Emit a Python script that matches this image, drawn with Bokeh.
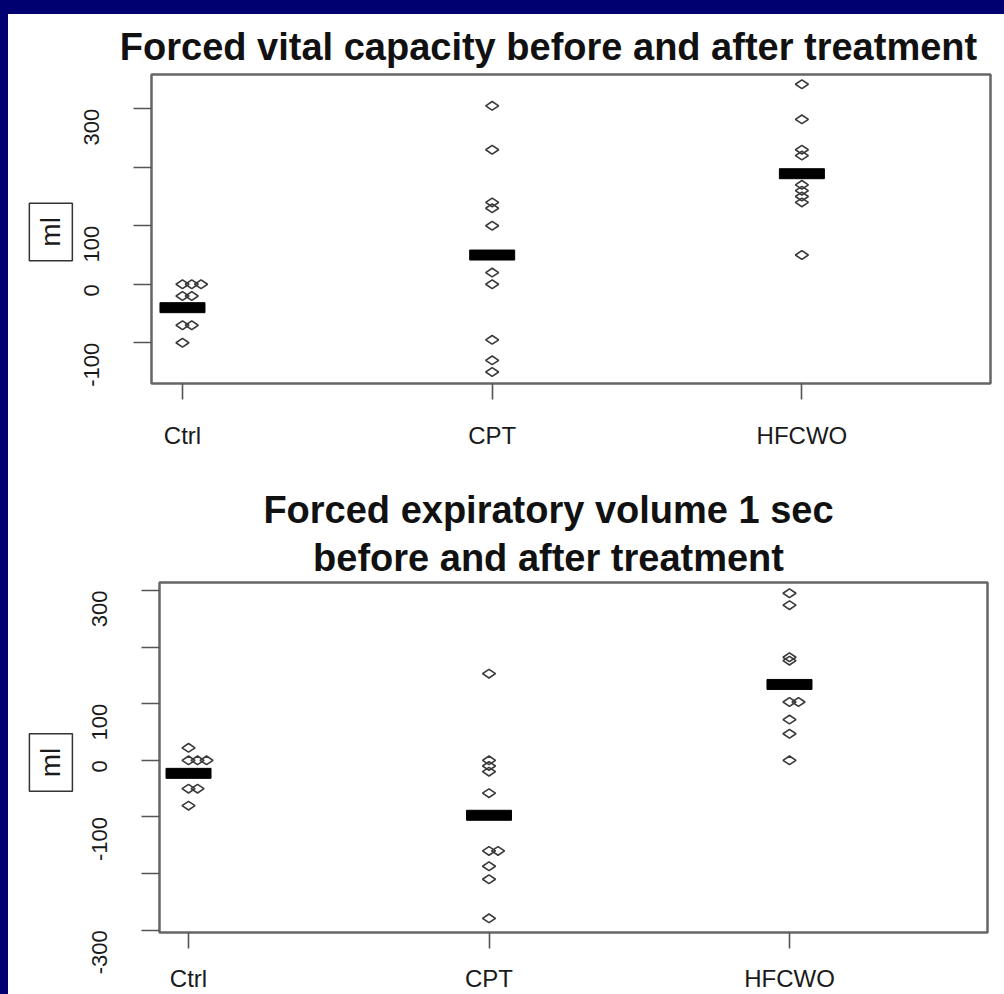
import math
from bokeh.plotting import figure
from bokeh.models import FixedTicker, Range1d, Title, Label, GlobalInlineStyleSheet
from bokeh.layouts import column
from bokeh.embed import file_html
from bokeh.resources import INLINE

# ---------------- data ----------------
groups = ["Ctrl", "CPT", "HFCWO"]

fvc_ctrl = [0, 0, 0, -20, -20, -70, -70, -100]
fvc_cpt = [305, 230, 140, 130, 100, 20, 0, -95, -130, -150]
fvc_hfcwo = [342, 282, 230, 220, 170, 160, 150, 140, 50]
fvc_means = [-40, 50, 189]

fev_ctrl = [22, 0, 0, 0, -50, -50, -80]
fev_cpt = [153, 0, -10, -20, -58, -160, -160, -187, -210, -279]
fev_hfcwo = [295, 274, 182, 176, 103, 103, 72, 47, 0]
fev_means = [-23, -97, 134]

fvc_yticks = [-100, 0, 100, 200, 300]
fvc_unlabeled = [200]
fev_yticks = [-300, -200, -100, 0, 100, 200, 300]
fev_unlabeled = [-200, 200]

title_fvc = ["Forced vital capacity before and after treatment"]
title_fev = ["Forced expiratory volume 1 sec", "before and after treatment"]
y_label = "ml"

STACK = 0.03
FONT = "Liberation Sans"
TITLE_PX = 38


def stacked(values, gi):
    xs, ys, seen = [], [], {}
    for v in values:
        k = seen.get(v, 0)
        seen[v] = k + 1
        xs.append(gi + 1 + k * STACK)
        ys.append(v)
    return xs, ys


def style_title(t, offset, standoff):
    t.text_font = FONT
    t.text_font_style = "bold"
    t.text_font_size = f"{TITLE_PX}px"
    t.text_color = "#111111"
    t.align = "left"
    t.offset = offset
    t.standoff = standoff


def panel(titles, title_offsets, title_standoffs, series, means, yticks,
          unlabeled, xr, yr, width, height, borders, standoff, ml_pos):
    left, right, top, bottom = borders
    p = figure(width=width, height=height,
               x_range=Range1d(*xr), y_range=Range1d(*yr),
               output_backend="svg", toolbar_location=None,
               min_border_left=left, min_border_right=right,
               min_border_top=top, min_border_bottom=bottom,
               background_fill_color="white", border_fill_color="white")
    if hasattr(p, "frame_align"):
        p.frame_align = False
    # first line is the figure title (outermost); following lines stack inward
    p.title.text = titles[0]
    style_title(p.title, title_offsets[0], title_standoffs[0])
    for txt, off, so in zip(titles[1:], title_offsets[1:], title_standoffs[1:]):
        t = Title(text=txt)
        style_title(t, off, so)
        p.add_layout(t, "above")

    p.grid.visible = False
    p.outline_line_color = "#666666"
    p.outline_line_width = 2.5

    p.xaxis.ticker = FixedTicker(ticks=[1, 2, 3])
    p.xaxis.major_label_overrides = {i + 1: g for i, g in enumerate(groups)}
    p.xaxis.major_label_standoff = standoff
    p.xaxis.major_label_text_font_size = "24px"
    p.xaxis.major_tick_out = 16

    p.yaxis.ticker = FixedTicker(ticks=yticks)
    p.yaxis.major_label_overrides = {t: ("" if t in unlabeled else str(t)) for t in yticks}
    p.yaxis.major_label_orientation = math.pi / 2
    p.yaxis.major_label_standoff = 42
    p.yaxis.major_label_text_font_size = "22px"
    p.yaxis.major_tick_out = 18

    for ax in (p.xaxis, p.yaxis):
        ax.axis_line_color = None
        ax.major_tick_in = 0
        ax.major_tick_line_color = "#555555"
        ax.major_tick_line_width = 1.6
        ax.minor_tick_line_color = None
        ax.major_label_text_font = FONT
        ax.major_label_text_color = "#1a1a1a"

    for gi, vals in enumerate(series):
        xs, ys = stacked(vals, gi)
        p.scatter(x=xs, y=ys, marker="diamond", size=13, angle=math.pi / 2,
                  fill_color=None, line_color="#3a3a3a", line_width=1.6)

    p.rect(x=[1, 2, 3], y=means, width=45, height=10,
           width_units="screen", height_units="screen",
           fill_color="black", line_color="black")

    # boxed "ml" label, placed in the left side panel so it is not clipped
    p.add_layout(Label(x=ml_pos[0], y=ml_pos[1], x_units="data",
                       y_units="data", text=y_label, angle=math.pi / 2,
                       text_align="center", text_baseline="middle",
                       text_font=FONT, text_font_size="28px",
                       text_color="#1a1a1a",
                       border_line_color="#333333", border_line_width=1.5,
                       background_fill_color="white", padding=(14, 6)), "left")
    return p


w1 = [22.562 * TITLE_PX]
w2 = [15.006 * TITLE_PX, 12.391 * TITLE_PX]
CENTER = 548
p1 = panel(title_fvc, [CENTER - w / 2 - 151 for w in w1], [14],
           [fvc_ctrl, fvc_cpt, fvc_hfcwo], fvc_means,
           fvc_yticks, fvc_unlabeled, (0.9, 3.609), (-169.6, 358.6),
           996, 456, (143, 14, 60, 87), 22, (0.575, 89.5))
p2 = panel(title_fev, [CENTER - w / 2 - 159 for w in w2], [0, 8],
           [fev_ctrl, fev_cpt, fev_hfcwo], fev_means,
           fev_yticks, fev_unlabeled, (0.9034, 3.659), (-304, 314),
           996, 524, (151, 17, 112, 61), 16, (0.542, -4))

layout = column(p1, p2, spacing=0, margin=(14, 0, 0, 8),
                styles={"background-color": "white"})
layout.stylesheets = [GlobalInlineStyleSheet(
    css="html, body { margin: 0 !important; padding: 0; background: #000070; overflow: hidden; }")]

open("out.html", "w").write(file_html(layout, INLINE))
